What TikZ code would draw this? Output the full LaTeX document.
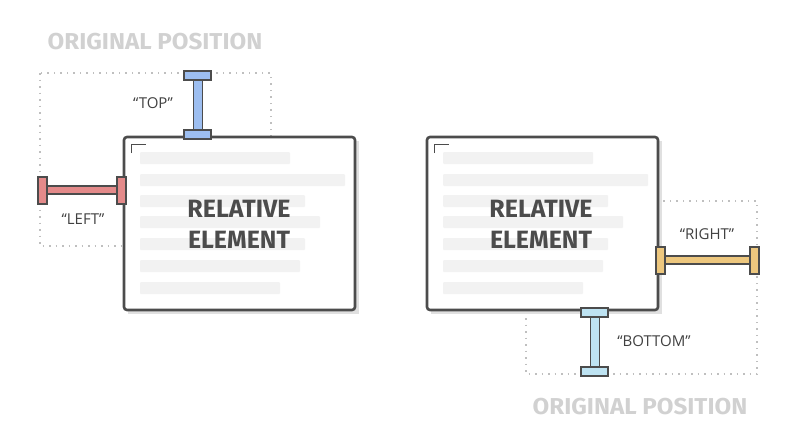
\documentclass[tikz,border=0pt]{standalone}
\usepackage{fontspec}
\setmainfont{Open Sans}
\newfontfamily\headfont{Fira Sans}
\begin{document}
\begin{tikzpicture}[x=1pt,y=-1pt,
  relbox/.style={draw=black!70,line width=2.6pt,rounded corners=3pt,fill=white},
  origbox/.style={draw=black!25,line width=1.5pt,dash pattern=on 1.5pt off 5pt},
  bar/.style={fill=black!5,rounded corners=1pt},
  title/.style={font=\headfont\bfseries\fontsize{25}{31}\selectfont,text=black!70,align=center},
  orig/.style={font=\headfont\bfseries\fontsize{23}{24}\selectfont,text=black!18},
  lab/.style={font=\fontsize{15}{17}\selectfont,text=black!75},
  ibeam/.style={draw=black!70,line width=1.6pt,fill=#1}]
\useasboundingbox (0,0) rectangle (800,445);
\definecolor{tblue}{HTML}{9DBEF0}
\definecolor{tred}{HTML}{E48A8A}
\definecolor{tyel}{HTML}{EDC77E}
\definecolor{tcyan}{HTML}{BEE3F2}
% left
\node[orig,anchor=west,xscale=1.05] (o1) at (44,42) {ORIGINAL POSITION};
\draw[origbox] (40,73) rectangle (271,246);
\fill[black!12] (128,141) rectangle (359,314);
\draw[relbox] (124,137) rectangle (355,310);
\draw[black!70,line width=1pt] (131,153) -- (131,144) -- (146,144);
\foreach \y/\w in {158/150,180/205,201/165,222/180,244/165,266/160,288/140}
  \fill[bar] (140,\y-6) rectangle (140+\w,\y+6);
\node[title] (t1) at (239,224) {RELATIVE\\ELEMENT};
% top marker
\draw[ibeam=tblue] (193.5,80) rectangle (202.5,130);
\draw[ibeam=tblue] (184,71) rectangle (211,80);
\draw[ibeam=tblue] (184,130) rectangle (211,139);
\node[lab] (ltop) at (153,103) {“TOP”};
% left marker
\draw[ibeam=tred] (47,186) rectangle (117,194);
\draw[ibeam=tred] (38,177) rectangle (47,204);
\draw[ibeam=tred] (117,177) rectangle (126,204);
\node[lab] (lleft) at (83,219) {“LEFT”};
% right
\node[orig,anchor=east,xscale=1.05] (o2) at (751,407) {ORIGINAL POSITION};
\draw[origbox] (526,201) rectangle (757,374);
\fill[black!12] (431,141) rectangle (662,314);
\draw[relbox] (427,137) rectangle (658,310);
\draw[black!70,line width=1pt] (434,153) -- (434,144) -- (449,144);
\foreach \y/\w in {158/150,180/205,201/165,222/180,244/165,266/160,288/140}
  \fill[bar] (443,\y-6) rectangle (443+\w,\y+6);
\node[title] (t2) at (541,224) {RELATIVE\\ELEMENT};
% bottom marker
\draw[ibeam=tcyan] (590.5,317) rectangle (599.5,367);
\draw[ibeam=tcyan] (581,308) rectangle (608,317);
\draw[ibeam=tcyan] (581,367) rectangle (608,376);
\node[lab] (lbot) at (654,341) {“BOTTOM”};
% right marker
\draw[ibeam=tyel] (665,256) rectangle (750,264);
\draw[ibeam=tyel] (656,247) rectangle (665,274);
\draw[ibeam=tyel] (750,247) rectangle (759,274);
\node[lab] (lright) at (707,234) {“RIGHT”};
\end{tikzpicture}
\end{document}
